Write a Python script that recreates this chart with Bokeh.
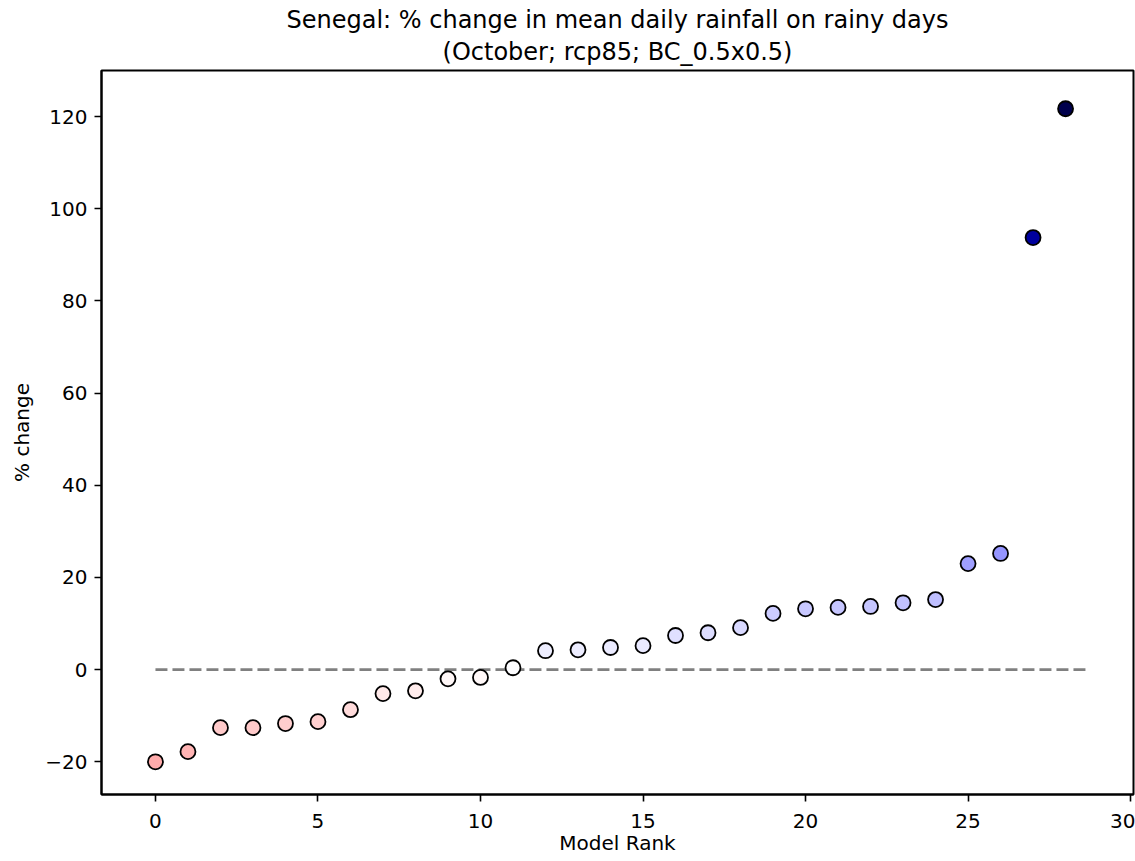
from bokeh.plotting import figure
from bokeh.models import Title, SingleIntervalTicker, CustomJSTickFormatter, Range1d, ColumnDataSource
from bokeh.embed import file_html
from bokeh.resources import INLINE

# ---- data ----
title_line1 = "Senegal: % change in mean daily rainfall on rainy days"
title_line2 = "(October; rcp85; BC_0.5x0.5)"
x_label = "Model Rank"
y_label = "% change"

rank = list(range(29))
pct_change = [-20.0, -17.8, -12.6, -12.6, -11.7, -11.3, -8.7, -5.2, -4.6, -2.0,
              -1.7, 0.4, 4.1, 4.3, 4.8, 5.2, 7.4, 8.0, 9.1, 12.2,
              13.2, 13.5, 13.7, 14.5, 15.2, 23.0, 25.2, 93.75, 121.7]
zero_line_x = [0, 28.7]
zero_line_y = [0, 0]


def seismic_r(v, vmax):
    """matplotlib 'seismic_r' colormap, symmetric norm [-vmax, vmax]."""
    t = 0.5 - v / (2.0 * vmax)  # position in the (non reversed) seismic map
    t = min(max(t, 0.0), 1.0)
    if t < 0.25:
        s = t / 0.25
        r, g, b = 0.0, 0.0, 0.3 + 0.7 * s
    elif t < 0.5:
        s = (t - 0.25) / 0.25
        r, g, b = s, s, 1.0
    elif t < 0.75:
        s = (t - 0.5) / 0.25
        r, g, b = 1.0, 1.0 - s, 1.0 - s
    else:
        s = (t - 0.75) / 0.25
        r, g, b = 1.0 - 0.5 * s, 0.0, 0.0
    return "#%02x%02x%02x" % (round(r * 255), round(g * 255), round(b * 255))


vmax = max(abs(v) for v in pct_change)
colors = [seismic_r(v, vmax) for v in pct_change]

source = ColumnDataSource(data=dict(x=rank, y=pct_change, c=colors))

FONT = "DejaVu Sans"
x_start, x_end = -1.66, 30.09
y_start, y_end = -27.1, 130.0

p = figure(width=1135, height=861, output_backend="svg", toolbar_location=None,
           title=None,
           x_range=Range1d(x_start, x_end), y_range=Range1d(y_start, y_end))
p.min_border_left = 101
p.min_border_right = 2
p.min_border_top = 70
p.min_border_bottom = 67

p.add_layout(Title(text=title_line2, align="center", text_font=FONT, text_font_size="24px",
                   text_font_style="normal", text_color="black", standoff=9), "above")
p.add_layout(Title(text=title_line1, align="center", text_font=FONT, text_font_size="24px",
                   text_font_style="normal", text_color="black", standoff=-4), "above")

p.line(zero_line_x, zero_line_y, line_color="#808080", line_width=2.8, line_dash="12 5")
p.scatter("x", "y", source=source, size=15, fill_color="c", line_color="black", line_width=1.8)

p.xgrid.visible = False
p.ygrid.visible = False
p.outline_line_color = "black"
p.outline_line_width = 2
p.background_fill_color = "white"
p.border_fill_color = "white"

p.xaxis.ticker = SingleIntervalTicker(interval=5, num_minor_ticks=0)
p.yaxis.ticker = SingleIntervalTicker(interval=20, num_minor_ticks=0)
p.yaxis.formatter = CustomJSTickFormatter(code="return tick < 0 ? '\u2212' + Math.abs(tick) : String(tick);")

for ax in (p.xaxis[0], p.yaxis[0]):
    ax.axis_line_color = "black"
    ax.axis_line_width = 2
    ax.major_tick_line_color = "black"
    ax.major_tick_line_width = 1.6
    ax.major_tick_out = 7
    ax.major_tick_in = 0
    ax.minor_tick_line_color = None
    ax.major_label_text_font = FONT
    ax.major_label_text_font_size = "20px"
    ax.major_label_text_color = "black"
    ax.major_label_standoff = 7
    ax.axis_label_text_font = FONT
    ax.axis_label_text_font_size = "20px"
    ax.axis_label_text_font_style = "normal"
    ax.axis_label_text_color = "black"

p.xaxis.axis_label = x_label
p.xaxis.major_label_standoff = 12
p.xaxis.axis_label_standoff = 0
p.yaxis.axis_label = y_label
p.yaxis.axis_label_standoff = 8

open("out.html", "w").write(file_html(p, INLINE))
